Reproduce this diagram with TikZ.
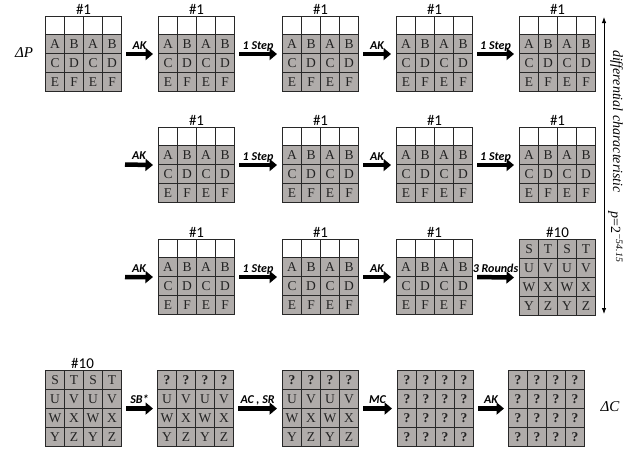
\documentclass[tikz,border=0pt]{standalone}
\usepackage{fontspec}
\setmainfont{Liberation Serif}
\newfontfamily\carlito{Carlito}
\usetikzlibrary{arrows.meta}
\definecolor{cellgray}{RGB}{176,172,170}
\definecolor{linec}{RGB}{40,40,40}
\definecolor{txtc}{RGB}{35,35,35}
\newcommand\qm{\textbf{?}}
\newcommand\cellrow[6]{\foreach \t [count=\i] in {#6}{\node[cell, fill=#5, minimum height=#4pt] (#1-\i) at ({#2+(\i-1)*19},#3) {\t};}}
\newcommand\stgridA[3]{%
  \cellrow{#1r0}{#2}{#3}{18}{white}{{},{},{},{}}
  \cellrow{#1r1}{#2}{#3+18}{19}{cellgray}{A,B,A,B}
  \cellrow{#1r2}{#2}{#3+37}{19}{cellgray}{C,D,C,D}
  \cellrow{#1r3}{#2}{#3+56}{19}{cellgray}{E,F,E,F}
  \node[frame, minimum height=75pt] (#1) at (#2,#3) {};
  \node[hdr] (#1h) at ([yshift=1.5pt]#1.north) {\#1};
}
\newcommand\stgridB[7]{%
  \cellrow{#1r1}{#2}{#3}{19}{cellgray}{#4}
  \cellrow{#1r2}{#2}{#3+19}{19}{cellgray}{#5}
  \cellrow{#1r3}{#2}{#3+38}{19}{cellgray}{#6}
  \cellrow{#1r4}{#2}{#3+57}{19}{cellgray}{#7}
  \node[frame, minimum height=76pt] (#1) at (#2,#3) {};
}
\begin{document}
\begin{tikzpicture}[x=1pt,y=-1pt,
  cell/.style={draw=linec, line width=1.1pt, minimum width=19pt, inner sep=0pt, anchor=north west, font=\fontsize{13.5}{13.5}\selectfont, text=txtc},
  frame/.style={draw=linec, line width=1.1pt, minimum width=76pt, inner sep=0pt, anchor=north west},
  hdr/.style={anchor=base, font=\carlito\fontsize{15}{15}\selectfont, inner sep=0pt},
  bigarrow/.style={line width=4.5pt, -{Triangle[length=7.5pt,width=12pt]}},
  lbl/.style={midway, anchor=base, yshift=4.8pt, inner sep=0pt, font=\carlito\bfseries\itshape\fontsize{12}{12}\selectfont},
  delta/.style={font=\itshape\fontsize{15}{15}\selectfont, inner sep=0pt},
  vtext/.style={rotate=-90, anchor=base, inner sep=0pt, font=\fontsize{14}{14}\selectfont},
]
\useasboundingbox (0,0) rectangle (624,450);

% row 1
\stgridA{g11}{45}{16}
\stgridA{g12}{158}{16}
\stgridA{g13}{282}{16}
\stgridA{g14}{396}{16}
\stgridA{g15}{519}{16}
% row 2
\stgridA{g22}{158}{127}
\stgridA{g23}{282}{127}
\stgridA{g24}{396}{127}
\stgridA{g25}{519}{127}
% row 3
\stgridA{g32}{158}{239}
\stgridA{g33}{282}{239}
\stgridA{g34}{396}{239}
\stgridB{g35}{519}{239}{S,T,S,T}{U,V,U,V}{W,X,W,X}{Y,Z,Y,Z}
\node[hdr] (g35h) at ([yshift=1.5pt]g35.north) {\#10};
% row 4
\stgridB{g41}{45}{370}{S,T,S,T}{U,V,U,V}{W,X,W,X}{Y,Z,Y,Z}
\node[hdr] (g41h) at ([yshift=1.5pt,xshift=-1pt]g41.north) {\#10};
\stgridB{g42}{157}{370}{\qm,\qm,\qm,\qm}{U,V,U,V}{W,X,W,X}{Y,Z,Y,Z}
\stgridB{g43}{282}{370}{\qm,\qm,\qm,\qm}{U,V,U,V}{W,X,W,X}{Y,Z,Y,Z}
\stgridB{g44}{397}{370}{\qm,\qm,\qm,\qm}{\qm,\qm,\qm,\qm}{\qm,\qm,\qm,\qm}{\qm,\qm,\qm,\qm}
\stgridB{g45}{508}{370}{\qm,\qm,\qm,\qm}{\qm,\qm,\qm,\qm}{\qm,\qm,\qm,\qm}{\qm,\qm,\qm,\qm}

% arrows row 1
\draw[bigarrow] ([xshift=4pt]g11.east) -- node[lbl]{AK} ([xshift=-5pt]g12.west);
\draw[bigarrow] ([xshift=4pt]g12.east) -- node[lbl]{1 Step} ([xshift=-5pt]g13.west);
\draw[bigarrow] ([xshift=4pt]g13.east) -- node[lbl]{AK} ([xshift=-5pt]g14.west);
\draw[bigarrow] ([xshift=4pt]g14.east) -- node[lbl]{1 Step} ([xshift=-5pt]g15.west);
% row 2
\coordinate (s2) at (125,164.5);
\draw[bigarrow] (s2) -- node[lbl]{AK} ([xshift=-5pt]g22.west);
\draw[bigarrow] ([xshift=4pt]g22.east) -- node[lbl]{1 Step} ([xshift=-5pt]g23.west);
\draw[bigarrow] ([xshift=4pt]g23.east) -- node[lbl]{AK} ([xshift=-5pt]g24.west);
\draw[bigarrow] ([xshift=4pt]g24.east) -- node[lbl]{1 Step} ([xshift=-5pt]g25.west);
% row 3
\coordinate (s3) at (125,277);
\draw[bigarrow] (s3) -- node[lbl]{AK} ([xshift=-5pt]g32.west);
\draw[bigarrow] ([xshift=4pt]g32.east) -- node[lbl]{1 Step} ([xshift=-5pt]g33.west);
\draw[bigarrow] ([xshift=4pt]g33.east) -- node[lbl]{AK} ([xshift=-5pt]g34.west);
\draw[bigarrow] ([xshift=4pt]g34.east) -- node[lbl]{3 Rounds} ([xshift=-5pt]g35.west);
% row 4
\draw[bigarrow] ([xshift=4pt]g41.east) -- node[lbl]{SB*} ([xshift=-4pt]g42.west);
\draw[bigarrow] ([xshift=4pt]g42.east) -- node[lbl]{AC , SR} ([xshift=-5pt]g43.west);
\draw[bigarrow] ([xshift=4pt]g43.east) -- node[lbl]{MC} ([xshift=-5pt]g44.west);
\draw[bigarrow] ([xshift=4pt]g44.east) -- node[lbl]{AK} ([xshift=-4pt]g45.west);

% deltas
\node[delta] (dP) at (24,53) {ΔP};
\node[delta] (dC) at (610,407) {ΔC};

% vertical arrow and text
\coordinate (vt) at (604,17);
\coordinate (vb) at (604,314);
\draw[line width=0.8pt, {Latex[length=6pt,width=4.5pt]}-{Latex[length=6pt,width=4.5pt]}] (vt) -- (vb);
\node[vtext] (dc) at (613,121.5) {\itshape differential characteristic};
\node[vtext] (pv) at (611,237) {{\itshape p}=2\textsuperscript{\itshape −54.15}};
\end{tikzpicture}
\end{document}
